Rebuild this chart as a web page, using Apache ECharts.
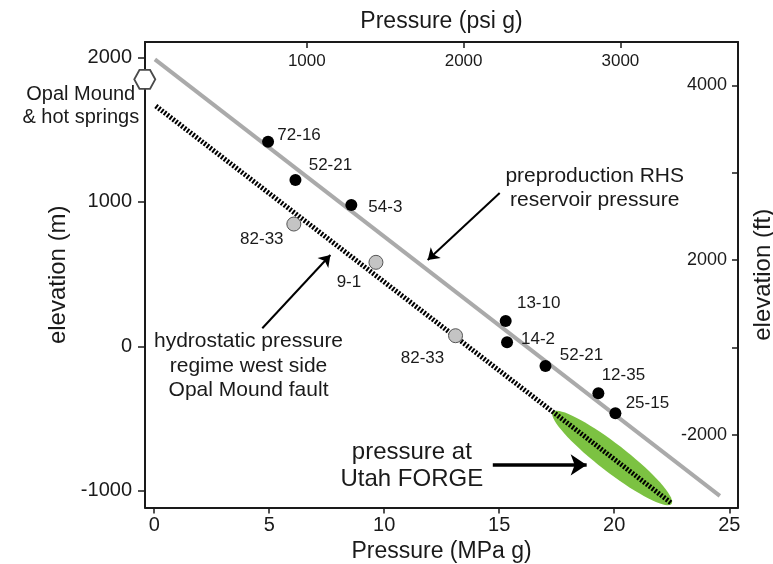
<!DOCTYPE html>
<html>
<head>
<meta charset="utf-8">
<script src="https://cdn.jsdelivr.net/npm/echarts@6.0.0/dist/echarts.min.js"></script>
<style>
html, body { margin: 0; padding: 0; background: #fff; }
#chart { width: 773px; height: 564px; }
</style>
</head>
<body>
<div id="chart"></div>
<script>
// wells on the preproduction RHS reservoir pressure trend (MPa g, elevation m)
const rhsWells = ['72-16', '52-21', '54-3', '13-10', '14-2', '52-21', '12-35', '25-15'];
const rhsPressure = [4.95, 6.14, 8.57, 15.28, 15.34, 17.01, 19.31, 20.05];
const rhsElevation = [1416, 1151, 978, 175, 28, -136, -325, -464];

// wells on the hydrostatic trend, west side of the Opal Mound fault
const hydroWells = ['82-33', '9-1', '82-33'];
const hydroPressure = [6.07, 9.64, 13.10];
const hydroElevation = [846, 581, 73];

// the two gradient lines (end points)
const rhsLinePressure = [0.03, 24.59];
const rhsLineElevation = [1986, -1036];
const hydroLinePressure = [0.07, 22.49];
const hydroLineElevation = [1663, -1087];

// Utah FORGE pressure envelope (tips of the ellipse)
const forgePressure = [17.33, 22.49];
const forgeElevation = [-455, -1091];

// Opal Mound & hot springs
const opalPressure = [-0.41];
const opalElevation = [1848];

// axis ranges and ticks
const mpaRange = [-0.40, 25.38];
const psiRange = [-32, 3750];
const mRange = [-1116, 2106];
const ftRange = [-3661, 6991];
const mpaTicks = [0, 5, 10, 15, 20, 25];
const psiTicks = [1000, 2000, 3000];
const mTicks = [-1000, 0, 1000, 2000];
const ftTicks = [-2000, 0, 2000, 4000, 6000];
const ftTickLabels = ['-2000', '', '2000', '', '4000'];

// annotations (text anchored in data units)
const noteTexts = ['preproduction RHS\nreservoir pressure', 'hydrostatic pressure\nregime west side\nOpal Mound fault', 'pressure at\nUtah FORGE'];
const notePressure = [19.15, 4.10, 11.2];
const noteElevation = [1095, -136, -828];

// arrows: [from pressure, from elevation, to pressure, to elevation]
const arrows = [
  [15.02, 1061, 11.89, 597],
  [4.70, 125, 7.66, 632],
  [14.72, -821, 18.80, -821]
];

// label placement for the well names (px from the dot centre)
const rhsLabelOffsets = [[31, -6], [35, -15], [34, 2], [33, -18], [31, -3], [36, -11], [25, -18], [32, -10]];
const hydroLabelOffsets = [[-32, 15], [-27, 20], [-33, 23]];
const noteStyles = [
  { fontSize: 21, lineHeight: 24 },
  { fontSize: 21, lineHeight: 24.5 },
  { fontSize: 24, lineHeight: 27 }
];

const FONT = 'Liberation Sans, Arial, Helvetica, sans-serif';
const INK = '#1a1a1a';

const chart = echarts.init(document.getElementById('chart'));

function pairs(xs, ys) {
  return xs.map((x, i) => [x, ys[i]]);
}

function renderEllipse(params, api) {
  const p1 = api.coord([api.value(0), api.value(1)]);
  const p2 = api.coord([api.value(2), api.value(3)]);
  const cx = (p1[0] + p2[0]) / 2;
  const cy = (p1[1] + p2[1]) / 2;
  const a = Math.hypot(p2[0] - p1[0], p2[1] - p1[1]) / 2;
  const b = 14;
  const ang = Math.atan2(p2[1] - p1[1], p2[0] - p1[0]);
  const pts = [];
  for (let i = 0; i < 72; i++) {
    const t = i / 72 * Math.PI * 2;
    const x = a * Math.cos(t), y = b * Math.sin(t);
    pts.push([cx + x * Math.cos(ang) - y * Math.sin(ang), cy + x * Math.sin(ang) + y * Math.cos(ang)]);
  }
  return { type: 'polygon', shape: { points: pts }, style: { fill: '#7cc242' } };
}

const axisLine = { show: true, onZero: false, lineStyle: { color: INK, width: 2 } };
const plain = v => String(v);

chart.setOption({
  animation: false,
  textStyle: { fontFamily: FONT },
  grid: { left: 145, right: 35, top: 42, bottom: 56.5, containLabel: false, outerBoundsMode: 'none' },
  xAxis: [
    {
      type: 'value', position: 'bottom', min: mpaRange[0], max: mpaRange[1],
      name: 'Pressure (MPa g)', nameLocation: 'middle', nameGap: 30,
      nameTextStyle: { fontSize: 23, color: INK, fontFamily: FONT },
      axisLine: axisLine,
      axisTick: { show: true, length: 6, customValues: mpaTicks, lineStyle: { color: INK, width: 1.5 } },
      axisLabel: { customValues: mpaTicks, fontSize: 20, color: INK, margin: 8, fontFamily: FONT, formatter: plain },
      splitLine: { show: false }
    },
    {
      type: 'value', position: 'top', min: psiRange[0], max: psiRange[1],
      name: 'Pressure (psi g)', nameLocation: 'middle', nameGap: 9,
      nameTextStyle: { fontSize: 23, color: INK, fontFamily: FONT },
      axisLine: axisLine,
      axisTick: { show: true, inside: true, length: 6, customValues: psiTicks, lineStyle: { color: INK, width: 1.5 } },
      axisLabel: { inside: true, customValues: psiTicks, fontSize: 17, color: INK, margin: 11, fontFamily: FONT, formatter: plain },
      splitLine: { show: false }
    }
  ],
  yAxis: [
    {
      type: 'value', position: 'left', min: mRange[0], max: mRange[1],
      name: 'elevation (m)', nameLocation: 'middle', nameGap: 64, nameRotate: 90,
      nameTextStyle: { fontSize: 24, color: INK, fontFamily: FONT },
      axisLine: axisLine,
      axisTick: { show: true, length: 7, customValues: mTicks, lineStyle: { color: INK, width: 1.5 } },
      axisLabel: { customValues: mTicks, fontSize: 20, color: INK, margin: 13, fontFamily: FONT, formatter: plain },
      splitLine: { show: false }
    },
    {
      type: 'value', position: 'right', min: ftRange[0], max: ftRange[1],
      name: 'elevation (ft)', nameLocation: 'middle', nameGap: 13, nameRotate: 90,
      nameTextStyle: { fontSize: 24, color: INK, fontFamily: FONT },
      axisLine: axisLine,
      axisTick: { show: true, inside: true, length: 6, customValues: ftTicks, lineStyle: { color: INK, width: 1.5 } },
      axisLabel: {
        inside: true, customValues: ftTicks, fontSize: 18, color: INK, margin: 11, fontFamily: FONT,
        formatter: v => ftTickLabels[ftTicks.indexOf(v)] || ''
      },
      splitLine: { show: false }
    }
  ],
  series: [
    {
      type: 'custom', name: 'Utah FORGE', z: 1, silent: true,
      renderItem: renderEllipse,
      data: [[forgePressure[0], forgeElevation[0], forgePressure[1], forgeElevation[1]]]
    },
    {
      type: 'line', name: 'RHS gradient', z: 2, silent: true, showSymbol: false, symbol: 'none',
      lineStyle: { color: '#aaaaaa', width: 4 },
      data: pairs(rhsLinePressure, rhsLineElevation)
    },
    {
      type: 'line', name: 'hydrostatic', z: 3, silent: true, showSymbol: false, symbol: 'none',
      lineStyle: { color: '#000', width: 5, type: [2, 1.6], cap: 'butt' },
      data: pairs(hydroLinePressure, hydroLineElevation)
    },
    {
      type: 'scatter', name: 'RHS wells', z: 5, symbolSize: 12,
      itemStyle: { color: '#000', opacity: 1 },
      label: { show: true, position: 'inside', formatter: '{b}', fontSize: 17, color: INK, fontFamily: FONT },
      data: rhsWells.map((w, i) => ({
        name: w, value: [rhsPressure[i], rhsElevation[i]],
        label: { offset: rhsLabelOffsets[i] }
      }))
    },
    {
      type: 'scatter', name: 'hydrostatic wells', z: 5, symbolSize: 14,
      itemStyle: { color: '#c4c4c4', borderColor: '#555', borderWidth: 1, opacity: 1 },
      label: { show: true, position: 'inside', formatter: '{b}', fontSize: 17, color: INK, fontFamily: FONT },
      data: hydroWells.map((w, i) => ({
        name: w, value: [hydroPressure[i], hydroElevation[i]],
        label: { offset: hydroLabelOffsets[i] }
      }))
    },
    {
      type: 'scatter', name: 'Opal Mound', z: 6, clip: false,
      symbol: 'path://M0,5 L3,0 L9,0 L12,5 L9,10 L3,10 Z', symbolSize: [21, 19],
      itemStyle: { color: '#fff', borderColor: '#4a4a4a', borderWidth: 1.8, opacity: 1 },
      label: {
        show: true, position: 'inside', offset: [-64, 27], align: 'center',
        formatter: 'Opal Mound\n& hot springs', fontSize: 20, lineHeight: 23, color: INK, fontFamily: FONT
      },
      data: pairs(opalPressure, opalElevation)
    },
    {
      type: 'scatter', name: 'notes', z: 6, silent: true, symbolSize: 1,
      itemStyle: { color: '#fff', opacity: 1 },
      label: { show: true, position: 'inside', align: 'center', formatter: '{b}', color: INK, fontFamily: FONT },
      data: noteTexts.map((t, i) => ({
        name: t, value: [notePressure[i], noteElevation[i]],
        label: noteStyles[i]
      })),
      markLine: {
        silent: true, animation: false,
        symbol: ['none', 'arrow'], symbolSize: 11,
        label: { show: false },
        lineStyle: { color: '#000', width: 2, type: 'solid', opacity: 1 },
        data: arrows.map((a, i) => [
          { coord: [a[0], a[1]], lineStyle: i === 2 ? { width: 3.5 } : {} },
          { coord: [a[2], a[3]], symbolSize: i === 2 ? 16 : 11 }
        ])
      }
    }
  ]
});
</script>
</body>
</html>
